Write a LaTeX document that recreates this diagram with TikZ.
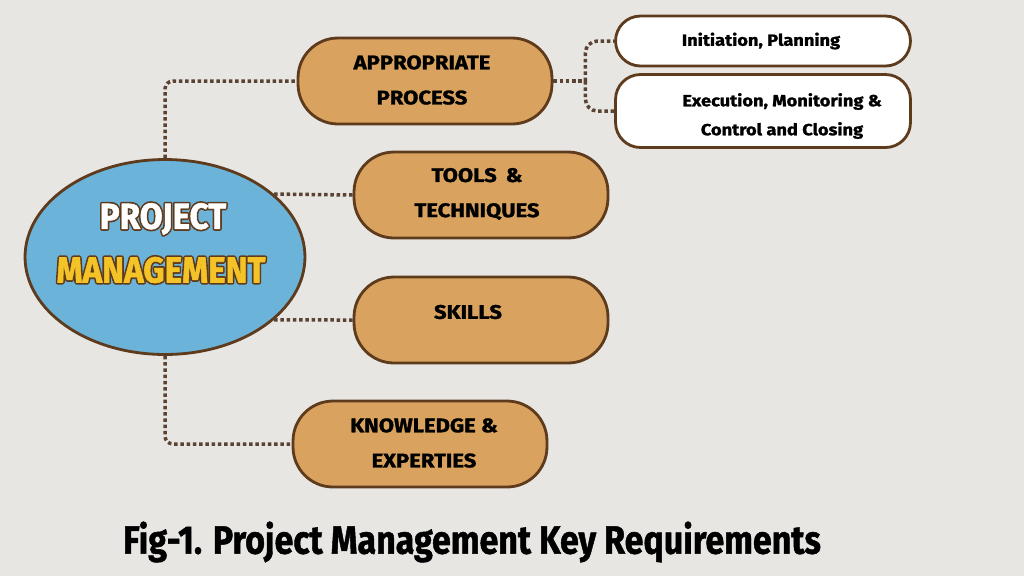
\documentclass[tikz,border=0pt]{standalone}
\usepackage{fontspec}
\setmainfont{Fira Sans}
\newfontfamily\boxfont{Fira Sans}[BoldFeatures={FakeBold=1.3}]
\newfontfamily\bigfont{Fira Sans}[BoldFeatures={FakeBold=1.6}]
\usetikzlibrary{shapes.geometric}
\definecolor{bgc}{HTML}{E8E6E3}
\definecolor{boxfill}{HTML}{D9A35F}
\definecolor{edge}{HTML}{5E3B1C}
\definecolor{dotc}{HTML}{5A4333}
\definecolor{ellfill}{HTML}{6BB3D9}
\definecolor{yel}{HTML}{F4C328}
\newcommand\strokedword[1]{%
  \special{pdf:literal direct 2 Tr 2.3 w 1 j 0.37 0.23 0.11 RG}#1\special{pdf:literal direct 0 Tr}}
\tikzset{
  mainbox/.style={draw=edge, fill=boxfill, line width=1.6pt, rounded corners=0.8cm,
    minimum width=5.08cm, minimum height=1.72cm, inner sep=0pt},
  subbox/.style={draw=edge, fill=white, line width=1.6pt, rounded corners=0.5cm,
    minimum width=5.9cm, inner sep=0pt},
  boxtext/.style={font=\boxfont\bfseries\fontsize{11.2}{20}\selectfont, align=center,
    text=black, xscale=1.12},
  subtext/.style={font=\boxfont\bfseries\fontsize{9.2}{16.5}\selectfont, align=center,
    text=black, xscale=1.13},
  dotline/.style={draw=dotc, line width=0.07cm, dash pattern=on 0.07cm off 0.055cm},
  bigshadow/.style={font=\bfseries\fontsize{20.5}{22}\selectfont, xscale=0.92, text=edge},
  bigword/.style={font=\bigfont\bfseries\fontsize{20.5}{22}\selectfont, xscale=0.92}
}
\begin{document}
\begin{tikzpicture}[x=0.02cm, y=-0.02cm]
\fill[bgc] (0,0) rectangle (1024,576);
\useasboundingbox (0,0) rectangle (1024,576);

% central ellipse
\node[ellipse, draw=edge, fill=ellfill, line width=1.6pt, minimum width=5.6cm,
  minimum height=3.9cm, inner sep=0pt] (ell) at (165,257) {};
\node[bigshadow] (tprojS) at (163,219) {\strokedword{PROJECT}};
\node[bigshadow] (tmgmtS) at (161,270) {\strokedword{MANAGEMENT}};
\node[bigword, text=white] (tproj) at (tprojS.center) {PROJECT};
\node[bigword, text=yel] (tmgmt) at (tmgmtS.center) {MANAGEMENT};

% main boxes
\node[mainbox] (proc) at (425,81) {};
\node[boxtext] (procT) at (422,80) {APPROPRIATE\\PROCESS};
\node[mainbox] (tools) at (481,195) {};
\node[boxtext] (toolsT) at (477,194) {TOOLS \,\&\\TECHNIQUES};
\node[mainbox] (skills) at (481,320) {};
\node[boxtext] (skillsT) at (468,312) {SKILLS};
\node[mainbox] (know) at (420,444) {};
\node[boxtext] (knowT) at (424,443) {KNOWLEDGE \&\\EXPERTIES};

% sub boxes
\node[subbox, minimum height=1.0cm] (init) at (763,41) {};
\node[subtext] (initT) at (761,41) {Initiation, Planning};
\node[subbox, minimum height=1.46cm] (exec) at (763,111) {};
\node[subtext] (execT) at (782,116) {Execution, Monitoring \&\\Control and Closing};

% connectors
\draw[dotline, rounded corners=0.16cm] (ell.north) |- (proc.west);
\draw[dotline] (ell.30) -- (tools.west);
\draw[dotline] (ell.-30) -- (skills.west);
\draw[dotline, rounded corners=0.16cm] (ell.south) |- (know.west);
\draw[dotline] (proc.east) -- ++(32,0) coordinate (br);
\draw[dotline, rounded corners=0.24cm] (br) |- (init.west);
\draw[dotline, rounded corners=0.24cm] (br) |- (exec.west);

% caption
\node[font=\boxfont\bfseries\fontsize{22.5}{24}\selectfont, text=black, xscale=0.86]
  (cap) at (472,542) {Fig-1. Project Management Key Requirements};
\end{tikzpicture}
\end{document}
